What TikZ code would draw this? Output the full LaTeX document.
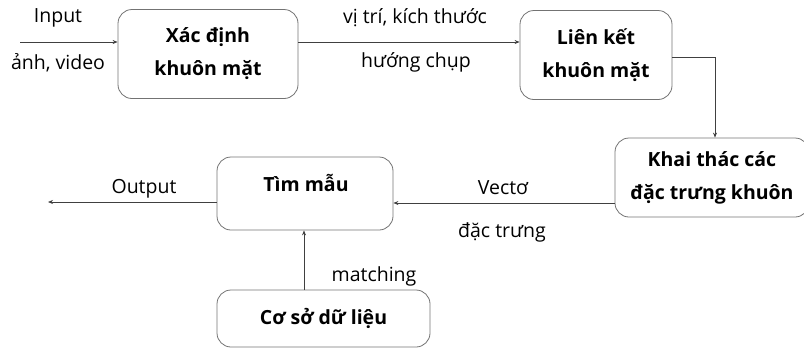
\documentclass[tikz,border=0pt]{standalone}
\usepackage{fontspec}
\setmainfont{Open Sans}
\usetikzlibrary{arrows.meta}
\begin{document}
\begin{tikzpicture}[x=1pt,y=-1pt,
  box/.style={draw=black!55, line width=0.8pt, rounded corners=14pt, inner sep=0pt, align=center, font=\fontsize{19.5}{33}\selectfont\bfseries},
  lbl/.style={font=\fontsize{19.5}{22}\selectfont, inner sep=0pt},
  arr/.style={draw=black!75, line width=0.7pt, -{Stealth[length=5pt,width=4pt]}}]
\useasboundingbox (0,0) rectangle (804,349);
\node[box, minimum width=180pt, minimum height=89pt] (b1) at (208,54) {Xác định\\khuôn mặt};
\node[box, minimum width=152pt, minimum height=89pt] (b2) at (596,55) {Liên kết\\khuôn mặt};
\node[box, minimum width=194pt, minimum height=79pt] (b3) at (712,177.5) {Khai thác các\\đặc trưng khuôn};
\node[box, minimum width=176pt, minimum height=73pt] (b4) at (305,193.5) {};
\node[lbl, font=\fontsize{19.5}{22}\selectfont\bfseries] (t4) at (306,183) {Tìm mẫu};
\node[box, font=\fontsize{19.5}{22}\selectfont\bfseries, minimum width=213pt, minimum height=57pt] (b5) at (323.5,318.5) {Cơ sở dữ liệu};
\coordinate (in) at (20,42);
\coordinate (a2) at (298,42);
\coordinate (c2) at (715,57);
\coordinate (out) at (48,202);
\coordinate (v3) at (615,203);
\draw[arr] (in) -- (in -| b1.west);
\draw[arr] (a2) -- (a2 -| b2.west);
\draw[arr] (c2 -| b2.east) -- (c2) -- (c2 |- b3.north);
\draw[arr] (v3) -- (v3 -| b4.east);
\draw[arr] (out -| b4.west) -- (out);
\draw[arr] (b5.north -| 304,0) -- (b4.south -| 304,0);
\node[lbl] (l1) at (58,18) {Input};
\node[lbl] (l2) at (58,63) {ảnh, video};
\node[lbl] (l3) at (415,18) {vị trí, kích thước};
\node[lbl] (l4) at (416,62) {hướng chụp};
\node[lbl] (l5) at (503,188) {Vectơ};
\node[lbl] (l6) at (502,232) {đặc trưng};
\node[lbl] (l7) at (144,189) {Output};
\node[lbl] (l8) at (374,276) {matching};
\end{tikzpicture}
\end{document}
